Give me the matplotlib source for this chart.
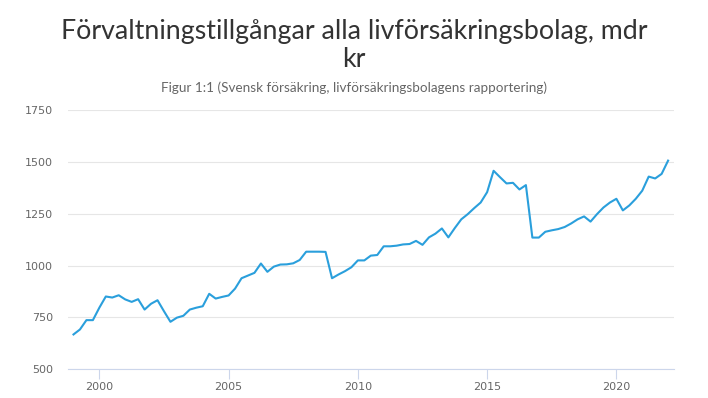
import matplotlib
matplotlib.use('Agg')
import matplotlib.pyplot as plt
import numpy as np

# quarterly values, mdr kr, 1999 - 2022
values = [668, 692, 737, 737, 797, 851, 846, 857, 837, 825, 838, 788, 816, 833,
          780, 729, 749, 758, 788, 797, 804, 864, 841, 849, 856, 889, 939, 952,
          965, 1010, 970, 995, 1005, 1006, 1011, 1027, 1067, 1067, 1067, 1066,
          939, 957, 973, 992, 1025, 1025, 1048, 1051, 1093, 1093, 1096, 1102,
          1104, 1119, 1100, 1136, 1154, 1179, 1136, 1181, 1223, 1248, 1277, 1304,
          1354, 1457, 1426, 1396, 1399, 1367, 1388, 1135, 1135, 1163, 1170, 1176,
          1186, 1203, 1223, 1237, 1212, 1248, 1280, 1304, 1322, 1266, 1290, 1322,
          1361, 1429, 1420, 1442, 1506]
start_year = 1999
x_ticks = [2000, 2005, 2010, 2015, 2020]
y_ticks = [500, 750, 1000, 1250, 1500, 1750]

title = 'Förvaltningstillgångar alla livförsäkringsbolag, mdr\nkr'
subtitle = 'Figur 1:1 (Svensk försäkring, livförsäkringsbolagens rapportering)'

head_font = ['Lato', 'DejaVu Sans']

years = start_year + np.arange(len(values)) / 4

fig = plt.figure(figsize=(7.08, 3.98), dpi=100)
ax = fig.add_axes([0.0965, 0.0721, 0.8559, 0.6515])

ax.plot(years, values, color='#2a9fdc', linewidth=1.5, solid_joinstyle='round')

ax.set_xlim(1998.8, 2022.24)
ax.set_ylim(500, 1750)
ax.set_xticks(x_ticks)
ax.set_yticks(y_ticks)
ax.grid(axis='y', color='#e6e6e6', linewidth=0.8)
ax.set_axisbelow(True)

for side in ['top', 'right', 'left']:
    ax.spines[side].set_visible(False)
ax.spines['bottom'].set_color('#ccd6eb')
ax.spines['bottom'].set_linewidth(0.8)

ax.tick_params(axis='x', length=7, color='#ccd6eb', width=0.8, pad=2,
               labelsize=8, labelcolor='#666666')
ax.tick_params(axis='y', length=0, pad=11, labelsize=8, labelcolor='#666666')

fig.text(0.5, 0.952, title, ha='center', va='top', fontsize=19.3,
         color='#333333', family=head_font, linespacing=1.12)
fig.text(0.5, 0.779, subtitle, ha='center', va='center', fontsize=9.7,
         color='#666666', family=head_font)

fig.savefig('out.png', dpi=100, facecolor='white')
